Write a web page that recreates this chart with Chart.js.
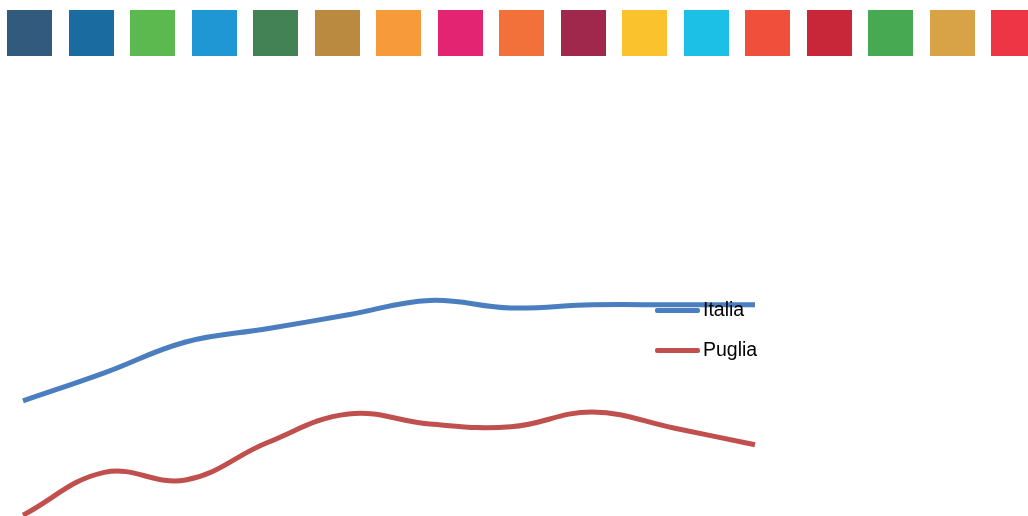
<!DOCTYPE html>
<html>
<head>
<meta charset="utf-8">
<script src="https://cdn.jsdelivr.net/npm/chart.js@4"></script>
<style>
  body { margin:0; background:#fff; width:1028px; height:516px; overflow:hidden; position:relative; font-family:"Liberation Sans", Arial, sans-serif; }
  #boxes div { position:absolute; top:10px; width:45px; height:46px; }
  #wrap { position:absolute; left:0; top:0; width:1028px; height:516px; }
  .leg { position:absolute; left:655px; height:20px; }
  .leg span.l { position:absolute; left:0; top:8px; width:45px; height:5px; border-radius:2px; }
  .leg span.t { position:absolute; left:48px; top:-2px; font-size:19.5px; color:#000; white-space:nowrap; }
</style>
</head>
<body>
<div id="boxes"></div>
<div id="wrap"><canvas id="myCanvas" width="1028" height="516"></canvas></div>
<div id="legend"></div>
<script>
// colour strip along the top
var boxColors = ["#325a7c","#1a6ba0","#5cb94f","#1f97d4","#438254","#ba8a41","#f79a3a","#e22473","#f2713b",
                 "#a0284c","#fac22d","#1cc0e6","#ef4f3b","#c82739","#47a951","#d8a347","#ed3546"];

var labels = ["2010","2011","2012","2013","2014","2015","2016","2017","2018","2019"];
var italia = [28.8, 35.8, 43.5, 46.8, 50.3, 53.9, 52.0, 52.8, 52.8, 52.8];
var puglia = [0.2, 10.9, 9.0, 18.3, 25.5, 23.0, 22.3, 26.0, 22.0, 17.8];
var seriesNames = ["Italia","Puglia"];
var seriesColors = ["#4a7ebf","#c0504d"];

var boxes = document.getElementById("boxes");
for (var i = 0; i < boxColors.length; i++) {
  var d = document.createElement("div");
  d.style.left = (7 + i * 61.5) + "px";
  d.style.background = boxColors[i];
  boxes.appendChild(d);
}

var legend = document.getElementById("legend");
for (var j = 0; j < seriesNames.length; j++) {
  var it = document.createElement("div");
  it.className = "leg";
  it.style.top = (300 + j * 40) + "px";
  it.innerHTML = '<span class="l" style="background:' + seriesColors[j] + '"></span><span class="t">' + seriesNames[j] + '</span>';
  legend.appendChild(it);
}

var ctx = document.getElementById("myCanvas").getContext("2d");
var chart = new Chart(ctx, {
  type: "line",
  data: {
    labels: labels,
    datasets: [
      { label: seriesNames[0], data: italia, borderColor: seriesColors[0], backgroundColor: seriesColors[0],
        borderWidth: 5, pointRadius: 0, tension: 0.4, fill: false },
      { label: seriesNames[1], data: puglia, borderColor: seriesColors[1], backgroundColor: seriesColors[1],
        borderWidth: 5, pointRadius: 0, tension: 0.4, fill: false }
    ]
  },
  options: {
    responsive: false,
    animation: false,
    layout: { padding: { left: 23, right: 273, top: 100, bottom: 0 } },
    plugins: { legend: { display: false }, tooltip: { enabled: false } },
    scales: {
      x: { display: false, offset: false },
      y: { display: false, min: 0, max: 104 }
    }
  }
});
</script>
</body>
</html>
